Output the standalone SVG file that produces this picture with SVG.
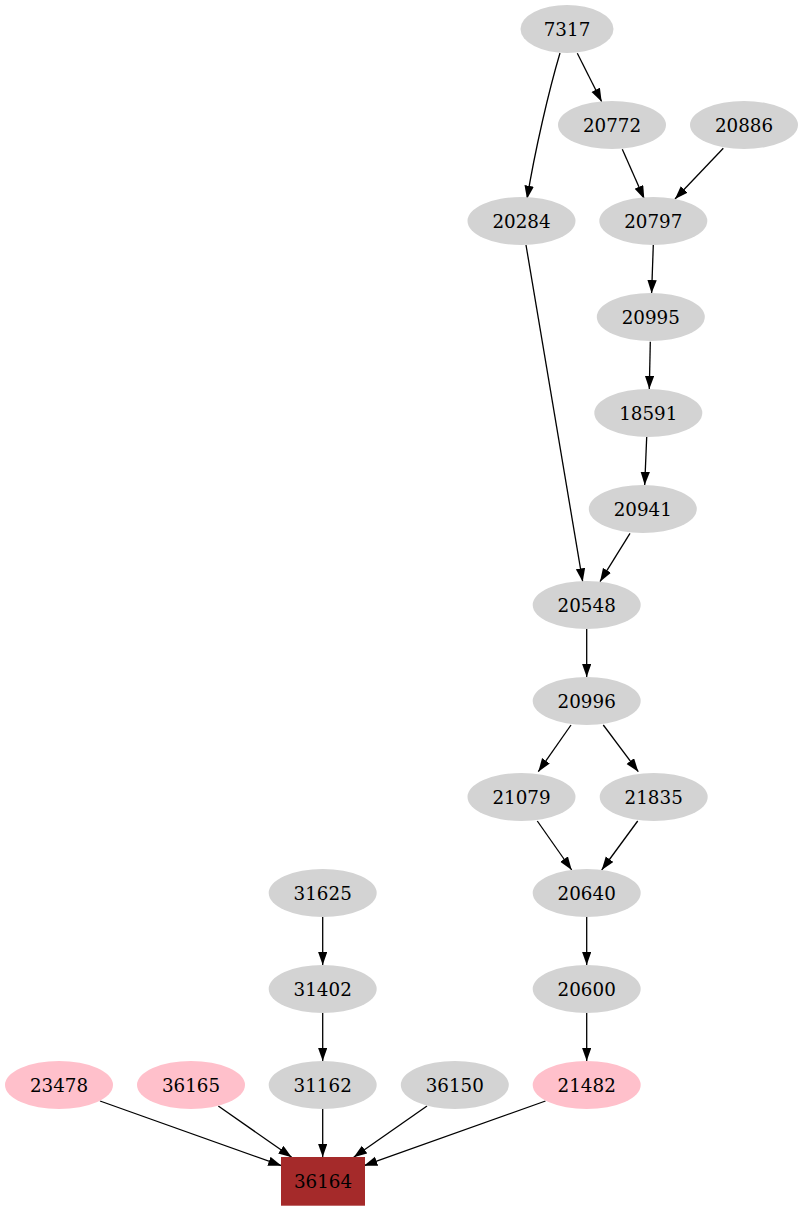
<svg xmlns="http://www.w3.org/2000/svg" width="803" height="1211" viewBox="0 0 803 1211">
<style>
.n ellipse{fill:#d3d3d3;stroke:none}
.p ellipse{fill:#ffc0cb;stroke:none}
text{font-family:"DejaVu Serif","Liberation Serif",serif;font-size:18.3px;text-anchor:middle;fill:#000}
.e path{fill:none;stroke:#000;stroke-width:1.3;marker-end:url(#a)}
</style>
<defs>
<marker id="a" markerUnits="userSpaceOnUse" markerWidth="14" markerHeight="10" refX="13.3" refY="4.7" orient="auto">
<path d="M0,0 L13.3,4.7 L0,9.4 z" fill="#000"/>
</marker>
</defs>
<rect width="803" height="1211" fill="#fff"/>
<g id="edges" class="e">
<path d="M577.3,53.3 L601.7,101.7"/>
<path d="M560,53 C549,90 535,150 527,199"/>
<path d="M622.3,149.3 L644.3,199"/>
<path d="M723.3,148.3 L675,199"/>
<path d="M526,245 L582.7,581.7"/>
<path d="M653.3,245 L651.6,293.3"/>
<path d="M650.3,341.7 L649.3,389"/>
<path d="M646.7,437 L644.7,485"/>
<path d="M630,533.3 L600,581.7"/>
<path d="M586.7,629 L586.7,677"/>
<path d="M571,725 L538.3,771.7"/>
<path d="M603.3,725 L638.3,771.7"/>
<path d="M537.3,821 L571.7,870"/>
<path d="M637.7,821 L601.7,870"/>
<path d="M586.7,917 L586.7,965"/>
<path d="M322.7,917 L322.7,965"/>
<path d="M322.7,1013 L322.7,1061"/>
<path d="M586.7,1013 L586.7,1061"/>
<path d="M322.7,1109 L322.7,1157"/>
<path d="M100,1101 L281.5,1165.7"/>
<path d="M218.3,1106 L291.7,1157.3"/>
<path d="M427,1106 L353.7,1157.3"/>
<path d="M545.5,1101 L364,1165.7"/>
</g>
<g id="n7317" class="n"><ellipse cx="567" cy="29" rx="46.5" ry="24"/><text x="567" y="35.5">7317</text></g>
<g id="n20772" class="n"><ellipse cx="612" cy="125" rx="54" ry="24"/><text x="612" y="131.5">20772</text></g>
<g id="n20886" class="n"><ellipse cx="744" cy="125" rx="54" ry="24"/><text x="744" y="131.5">20886</text></g>
<g id="n20284" class="n"><ellipse cx="521.5" cy="221" rx="54" ry="24"/><text x="521.5" y="227.5">20284</text></g>
<g id="n20797" class="n"><ellipse cx="653.3" cy="221" rx="54" ry="24"/><text x="653.3" y="227.5">20797</text></g>
<g id="n20995" class="n"><ellipse cx="650.8" cy="317" rx="54" ry="24"/><text x="650.8" y="323.5">20995</text></g>
<g id="n18591" class="n"><ellipse cx="648.3" cy="413" rx="54" ry="24"/><text x="648.3" y="419.5">18591</text></g>
<g id="n20941" class="n"><ellipse cx="642.8" cy="509" rx="54" ry="24"/><text x="642.8" y="515.5">20941</text></g>
<g id="n20548" class="n"><ellipse cx="586.7" cy="605" rx="54" ry="24"/><text x="586.7" y="611.5">20548</text></g>
<g id="n20996" class="n"><ellipse cx="586.7" cy="701" rx="54" ry="24"/><text x="586.7" y="707.5">20996</text></g>
<g id="n21079" class="n"><ellipse cx="521.5" cy="797" rx="54" ry="24"/><text x="521.5" y="803.5">21079</text></g>
<g id="n21835" class="n"><ellipse cx="653.7" cy="797" rx="54" ry="24"/><text x="653.7" y="803.5">21835</text></g>
<g id="n31625" class="n"><ellipse cx="322.7" cy="893" rx="54" ry="24"/><text x="322.7" y="899.5">31625</text></g>
<g id="n20640" class="n"><ellipse cx="586.7" cy="893" rx="54" ry="24"/><text x="586.7" y="899.5">20640</text></g>
<g id="n31402" class="n"><ellipse cx="322.7" cy="989" rx="54" ry="24"/><text x="322.7" y="995.5">31402</text></g>
<g id="n20600" class="n"><ellipse cx="586.7" cy="989" rx="54" ry="24"/><text x="586.7" y="995.5">20600</text></g>
<g id="n23478" class="p"><ellipse cx="59" cy="1085" rx="54" ry="24"/><text x="59" y="1091.5">23478</text></g>
<g id="n36165" class="p"><ellipse cx="191" cy="1085" rx="54" ry="24"/><text x="191" y="1091.5">36165</text></g>
<g id="n31162" class="n"><ellipse cx="322.7" cy="1085" rx="54" ry="24"/><text x="322.7" y="1091.5">31162</text></g>
<g id="n36150" class="n"><ellipse cx="454.8" cy="1085" rx="54" ry="24"/><text x="454.8" y="1091.5">36150</text></g>
<g id="n21482" class="p"><ellipse cx="586.7" cy="1085" rx="54" ry="24"/><text x="586.7" y="1091.5">21482</text></g>
<g id="n36164"><rect x="281" y="1157" width="84" height="48.7" fill="#a52a2a"/><text x="323" y="1187.5">36164</text></g>
</svg>
